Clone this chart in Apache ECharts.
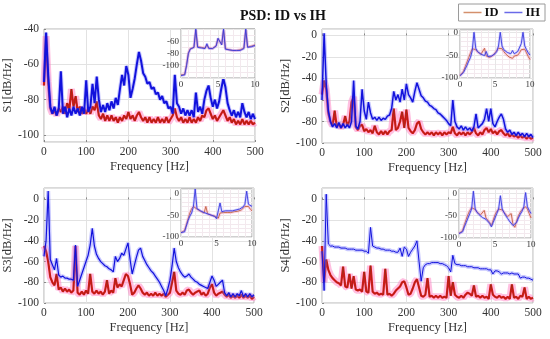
<!DOCTYPE html>
<html><head><meta charset="utf-8">
<script src="https://cdn.jsdelivr.net/npm/echarts@6/dist/echarts.min.js"></script>
<style>html,body{margin:0;padding:0;background:#fff}#c{width:550px;height:339px}</style>
</head><body><div id="c"></div>
<script>
// frequency grid of the main panels [Hz]
const freq = [0,5,10,15,20,25,30,35,40,45,50,55,60,65,70,75,80,85,90,95,100,105,110,115,120,125,130,135,140,145,150,155,160,165,170,175,180,185,190,195,200,205,210,215,220,225,230,235,240,245,250,255,260,265,270,275,280,285,290,295,300,305,310,315,320,325,330,335,340,345,350,355,360,365,370,375,380,385,390,395,400,405,410,415,420,425,430,435,440,445,450,455,460,465,470,475,480,485,490,495,500];
// S1
const s1IH = [-70,-42,-66,-84,-88,-84,-89,-85,-64,-88,-84,-90,-85,-89,-84,-88,-85,-89,-84,-88,-69,-87,-84,-71,-82,-67,-80,-87,-83,-87,-82,-86,-81,-85,-79,-83,-74,-66,-72,-61,-66,-79,-74,-68,-60,-53,-58,-65,-67,-71,-70,-74,-73,-77,-76,-80,-78,-82,-81,-85,-84,-88,-66,-82,-84,-88,-85,-89,-86,-89,-86,-90,-76,-87,-84,-88,-80,-75,-72,-79,-84,-80,-85,-81,-74,-68,-73,-82,-86,-89,-86,-90,-87,-90,-82,-87,-90,-87,-91,-88,-91];
const s1ID = [-72,-44,-70,-85,-88,-86,-89,-85,-87,-84,-88,-82,-86,-74,-84,-78,-87,-84,-88,-85,-88,-85,-88,-84,-86,-81,-89,-91,-88,-92,-89,-92,-89,-92,-90,-93,-90,-92,-89,-91,-87,-91,-89,-92,-89,-87,-90,-92,-90,-93,-90,-93,-91,-93,-90,-93,-91,-93,-90,-93,-91,-89,-85,-90,-92,-90,-93,-91,-93,-90,-93,-91,-93,-90,-92,-89,-90,-86,-85,-88,-91,-89,-92,-90,-88,-86,-89,-92,-90,-93,-91,-94,-92,-94,-91,-94,-92,-94,-92,-94,-93];
// S2
const s2IH = [-60,2,-45,-70,-80,-85,-82,-86,-81,-86,-82,-86,-83,-86,-80,-42,-84,-87,-80,-50,-70,-78,-62,-72,-78,-76,-79,-76,-79,-77,-78,-75,-74,-68,-52,-60,-55,-62,-50,-60,-45,-55,-58,-62,-52,-44,-50,-56,-58,-61,-62,-65,-66,-68,-69,-72,-73,-75,-77,-79,-82,-84,-60,-80,-85,-87,-84,-88,-85,-88,-86,-89,-85,-73,-86,-84,-82,-78,-68,-80,-68,-82,-85,-80,-76,-73,-78,-87,-90,-88,-92,-90,-93,-90,-93,-91,-94,-91,-94,-92,-95];
const s2ID = [-55,-42,-50,-72,-80,-84,-70,-85,-82,-86,-83,-75,-84,-80,-62,-57,-85,-88,-84,-83,-89,-87,-90,-88,-91,-84,-90,-92,-89,-92,-89,-92,-89,-88,-68,-88,-86,-80,-71,-86,-69,-86,-89,-91,-88,-82,-80,-87,-90,-92,-90,-92,-90,-93,-90,-92,-90,-93,-90,-92,-90,-91,-85,-91,-93,-90,-92,-90,-93,-90,-92,-90,-86,-91,-93,-90,-92,-88,-86,-90,-87,-91,-89,-92,-89,-88,-91,-93,-91,-94,-92,-94,-93,-95,-93,-95,-94,-96,-94,-96,-95];
// S3
const s3IH = [-55,-40,8,-58,-63,-68,-57,-73,-75,-74,-76,-76,-77,-77,-78,-44,-84,-78,-72,-66,-60,-54,-44,-28,-45,-53,-57,-60,-62,-64,-65,-67,-68,-70,-55,-60,-57,-52,-54,-48,-42,-58,-72,-64,-56,-49,-47,-55,-59,-63,-66,-69,-71,-74,-77,-80,-84,-88,-93,-86,-78,-64,-47,-60,-66,-70,-73,-75,-74,-72,-75,-77,-79,-80,-82,-83,-84,-85,-86,-80,-74,-78,-84,-82,-80,-78,-90,-93,-90,-94,-91,-94,-91,-93,-88,-94,-91,-94,-91,-94,-92];
const s3ID = [-45,-50,-60,-75,-80,-83,-72,-87,-85,-89,-86,-89,-87,-90,-88,-45,-90,-92,-89,-92,-88,-91,-72,-89,-91,-88,-91,-89,-92,-89,-78,-91,-88,-90,-76,-85,-82,-84,-78,-72,-74,-82,-92,-90,-86,-83,-86,-90,-92,-90,-93,-91,-93,-90,-93,-91,-93,-91,-94,-92,-90,-80,-70,-88,-91,-92,-90,-92,-88,-87,-90,-92,-90,-89,-88,-92,-90,-93,-91,-85,-82,-90,-93,-91,-90,-89,-92,-94,-92,-95,-93,-95,-93,-95,-92,-95,-93,-95,-93,-96,-94];
// S4
const s4IH = [-50,-88,5,-43,-45,-45,-46,-46,-46,-47,-47,-47,-48,-48,-48,-48,-49,-49,-49,-49,-50,-50,-52,-27,-45,-46,-47,-47,-48,-48,-49,-49,-49,-50,-50,-51,-51,-47,-55,-46,-48,-55,-51,-48,-45,-40,-60,-79,-66,-63,-62,-62,-61,-61,-61,-61,-62,-62,-63,-64,-66,-70,-54,-62,-63,-63,-64,-64,-64,-65,-65,-65,-66,-66,-66,-67,-67,-67,-67,-68,-68,-72,-69,-69,-70,-72,-71,-71,-71,-72,-71,-72,-72,-72,-76,-75,-75,-76,-76,-77,-78];
const s4ID = [-45,-80,-58,-68,-73,-76,-78,-80,-81,-83,-65,-84,-85,-72,-86,-74,-87,-88,-87,-89,-70,-89,-90,-64,-89,-91,-90,-92,-91,-92,-67,-92,-91,-93,-91,-88,-86,-84,-80,-79,-85,-92,-91,-86,-80,-77,-85,-93,-94,-92,-76,-94,-93,-95,-93,-95,-93,-95,-94,-95,-74,-93,-80,-92,-94,-95,-93,-95,-92,-90,-91,-93,-83,-94,-93,-95,-93,-95,-94,-96,-82,-92,-94,-95,-93,-95,-94,-96,-94,-96,-82,-95,-94,-96,-93,-94,-85,-96,-94,-96,-95];
// insets 0-10 Hz
const insetFreq = [0,0.25,0.5,0.75,1,1.25,1.5,1.75,2,2.25,2.5,2.75,3,3.25,3.5,3.75,4,4.25,4.5,4.75,5,5.25,5.5,5.75,6,6.25,6.5,6.75,7,7.25,7.5,7.75,8,8.25,8.5,8.75,9,9.25,9.5,9.75,10];
const i1IH = [-116,-116,-115,-100,-80,-73,-71,-70,-40,-70,-70,-71,-71,-72,-64,-72,-73,-72,-72,-68,-55,-52,-66,-40,-73,-75,-74,-76,-75,-77,-75,-76,-75,-74,-72,-40,-70,-68,-69,-66,-67];
const i1ID = [-115,-115,-114,-98,-79,-72,-70,-70,-42,-69,-70,-70,-71,-71,-66,-71,-72,-72,-71,-67,-56,-53,-65,-42,-72,-74,-74,-75,-75,-76,-75,-75,-74,-74,-71,-42,-69,-68,-68,-66,-66];
const i2IH = [-95,-93,-88,-80,-72,-63,-55,-40,0,-35,-42,-46,-48,-50,-51,-42,-53,-53,-52,-50,-47,-42,-30,0,-30,-38,-42,-44,-46,-47,-40,-47,-45,-42,-38,-25,0,-30,-38,-45,-50];
const i2ID = [-95,-92,-85,-75,-65,-55,-45,-36,-33,-38,-43,-46,-48,-50,-35,-52,-54,-55,-54,-50,-45,-40,-35,-32,-36,-42,-47,-51,-54,-56,-57,-52,-54,-50,-45,-38,-34,-37,-45,-53,-60];
const i3IH = [-90,-90,-88,-75,-62,-52,-45,-30,10,-35,-38,-40,-42,-44,-46,-47,-49,-50,-52,-53,-58,-60,-22,-42,-40,-40,-40,-40,-40,-40,-39,-38,-37,-36,-34,-31,-25,5,-25,-28,-30];
const i3ID = [-90,-89,-85,-72,-58,-45,-35,-30,-30,-36,-39,-41,-43,-45,-30,-47,-48,-50,-51,-52,-55,-57,-45,-45,-44,-44,-44,-44,-44,-43,-42,-42,-41,-40,-38,-35,-30,-26,-30,-36,-40];
const i4IH = [-90,-90,-86,-75,-65,-55,-45,-35,5,-35,-42,-47,-50,-54,-52,-58,-62,-67,-75,-65,-55,-45,-35,-5,-35,-43,-50,-56,-62,-66,-72,-75,-65,-55,-47,-40,-30,2,-30,-38,-45];
const i4ID = [-90,-89,-83,-70,-58,-47,-38,-32,-30,-36,-42,-46,-48,-50,-38,-55,-60,-65,-72,-60,-48,-40,-35,-33,-37,-42,-47,-52,-56,-45,-70,-76,-62,-50,-42,-36,-32,-30,-35,-45,-55];
const yNames = ['S1[dB/Hz]','S2[dB/Hz]','S3[dB/Hz]','S4[dB/Hz]'];
const xName = 'Frequency [Hz]';
const titleText = 'PSD: ID vs IH';

const FONT = '"Liberation Serif", "Times New Roman", serif';
const pairs = (xs, ys) => xs.map((x, i) => [x, ys[i]]);
const mainIH = [s1IH, s2IH, s3IH, s4IH];
const mainID = [s1ID, s2ID, s3ID, s4ID];
const insIH = [i1IH, i2IH, i3IH, i4IH];
const insID = [i1ID, i2ID, i3ID, i4ID];
const ihWidth = [2, 1.5, 1.2, 1];

const mainGrids = [
  {left: 43, top: 29, width: 212, height: 113},
  {left: 322, top: 29, width: 211, height: 114},
  {left: 43, top: 188, width: 211, height: 115},
  {left: 322, top: 188, width: 211, height: 115}
];
const insetGrids = [
  {left: 181, top: 29, width: 74, height: 49},
  {left: 460, top: 30, width: 70, height: 48},
  {left: 181, top: 189, width: 71, height: 48},
  {left: 459, top: 189, width: 72, height: 49}
];
const mainY = [
  {min: -104, max: -40, splitNumber: 3},
  {min: -100, max: 6, interval: 20},
  {min: -100, max: 11, interval: 20},
  {min: -100, max: 11, interval: 20}
];
const insetY = [
  {min: -120, max: -40, interval: 20},
  {min: -100, max: 5, interval: 50},
  {min: -100, max: 10, interval: 50},
  {min: -100, max: 10, interval: 50}
];

const grid = [], xAxis = [], yAxis = [], series = [];
mainGrids.forEach((g, k) => {
  grid.push(Object.assign({show: true, borderColor: '#b4b4b4', borderWidth: 1, backgroundColor: 'transparent'}, g));
  xAxis.push({type: 'value', gridIndex: k, min: 0, max: 500, interval: 100,
    name: xName, nameLocation: 'middle', nameGap: 18,
    nameTextStyle: {fontFamily: FONT, fontSize: 12.5, color: '#333'},
    axisLine: {show: false}, axisTick: {show: true, inside: true, length: 2, lineStyle: {color: '#888'}},
    axisLabel: {fontFamily: FONT, fontSize: 11.5, color: '#333', margin: 4},
    splitLine: {show: true, lineStyle: {color: '#e2e2e2', width: 1}}});
  yAxis.push(Object.assign({type: 'value', gridIndex: k,
    name: yNames[k], nameLocation: 'middle', nameGap: 24,
    nameTextStyle: {fontFamily: FONT, fontSize: 12.5, color: '#333'},
    axisLine: {show: false}, axisTick: {show: true, inside: true, length: 2, lineStyle: {color: '#888'}},
    axisLabel: {fontFamily: FONT, fontSize: 11.5, color: '#333', margin: 5, showMinLabel: k !== 0, showMaxLabel: k === 0},
    splitLine: {show: true, lineStyle: {color: '#e2e2e2', width: 1}}}, mainY[k]));
});
insetGrids.forEach((g, k) => {
  grid.push(Object.assign({show: true, z: 10, borderColor: '#a0a0a0', borderWidth: 1, backgroundColor: '#ffffff'}, g));
  xAxis.push({type: 'value', gridIndex: 4 + k, z: 11, min: 0, max: 10, interval: 5,
    axisLine: {show: false}, axisTick: {show: false},
    axisLabel: {fontFamily: FONT, fontSize: 9, color: '#333', margin: 2},
    splitLine: {show: true, lineStyle: {color: '#e6e6e6'}},
    minorTick: {show: false, splitNumber: 5},
    minorSplitLine: {show: true, lineStyle: {color: '#f3e9ee'}}});
  yAxis.push(Object.assign({type: 'value', gridIndex: 4 + k, z: 11,
    axisLine: {show: false}, axisTick: {show: false},
    axisLabel: {fontFamily: FONT, fontSize: 9, color: '#333', margin: 2, showMinLabel: k !== 0, showMaxLabel: false},
    splitLine: {show: true, lineStyle: {color: '#e6e6e6'}},
    minorTick: {show: false, splitNumber: k === 0 ? 2 : 5},
    minorSplitLine: {show: true, lineStyle: {color: '#f3e9ee'}}}, insetY[k]));
});

function lineSeries(name, data, xi, color, width, z, opacity) {
  return {type: 'line', name: name, xAxisIndex: xi, yAxisIndex: xi, data: data,
    showSymbol: false, symbol: 'none', animation: false, silent: true, z: z,
    lineStyle: {color: color, width: width, opacity: opacity === undefined ? 1 : opacity}};
}
for (let k = 0; k < 4; k++) {
  const idD = pairs(freq, mainID[k]);
  const ihD = pairs(freq, mainIH[k]);
  series.push(lineSeries('ID_band' + k, idD, k, 'rgba(255,130,195,0.5)', 7, 2));
  series.push(lineSeries(k === 0 ? 'ID' : 'ID' + k, idD, k, '#e3141c', 2.2, 3));
  series.push(lineSeries('ID_dark' + k, idD, k, '#5e4010', 0.8, 3, 0.55));
  series.push(lineSeries('IH_band' + k, ihD, k, 'rgba(110,110,255,0.38)', 4, 4));
  series.push(lineSeries(k === 0 ? 'IH' : 'IH' + k, ihD, k, '#1212dc', ihWidth[k], 5));
}
for (let k = 0; k < 4; k++) {
  const idD = pairs(insetFreq, insID[k]);
  const ihD = pairs(insetFreq, insIH[k]);
  series.push(lineSeries('iID_band' + k, idD, 4 + k, 'rgba(255,150,190,0.4)', 3, 12));
  series.push(lineSeries('iID' + k, idD, 4 + k, '#c0643c', 0.9, 13));
  series.push(lineSeries('iIH_band' + k, ihD, 4 + k, 'rgba(130,130,255,0.35)', 2.5, 14));
  series.push(lineSeries('iIH' + k, ihD, 4 + k, '#3a3ae0', 0.9, 15));
}

const chart = echarts.init(document.getElementById('c'), null, {renderer: 'canvas'});
chart.setOption({
  backgroundColor: '#ffffff',
  animation: false,
  title: {text: titleText, left: 235, top: 4,
    textStyle: {fontFamily: FONT, fontSize: 14, fontWeight: 'bold', color: '#111'}},
  legend: {right: 5, top: 4, icon: 'rect', itemWidth: 18, itemHeight: 1.5, itemGap: 6,
    borderColor: '#9a9a9a', borderWidth: 1, padding: [2, 5, 2, 5],
    textStyle: {fontFamily: FONT, fontSize: 12.5, fontWeight: 'bold', color: '#111', padding: [0, 0, 0, -2]},
    data: [{name: 'ID', itemStyle: {color: '#d4906c'}}, {name: 'IH', itemStyle: {color: '#6a6ae8'}}]},
  grid: grid, xAxis: xAxis, yAxis: yAxis, series: series
});
</script></body></html>
